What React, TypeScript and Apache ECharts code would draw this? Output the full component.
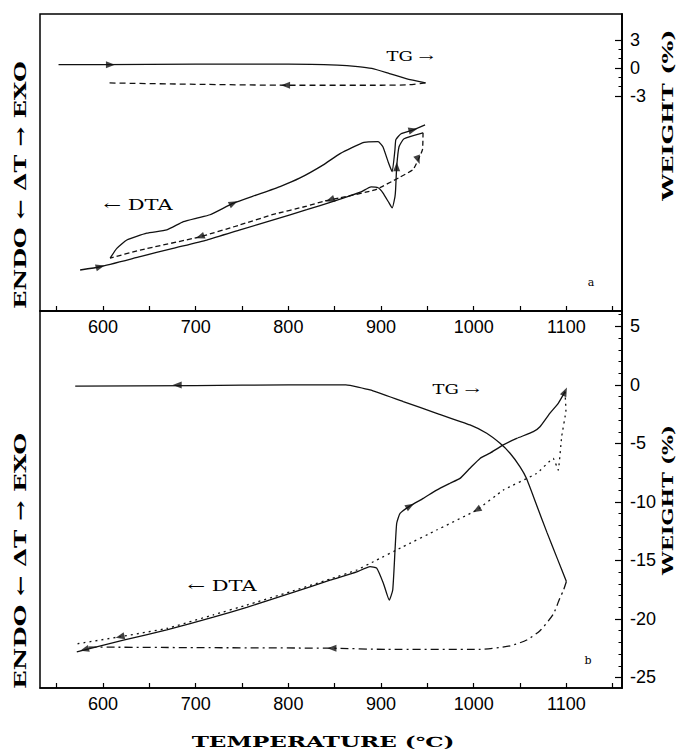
import React, { useEffect, useRef } from "react";
import * as echarts from "echarts";

// ---------- axis ticks ----------
const xTickValues = [550, 600, 650, 700, 750, 800, 850, 900, 950, 1000, 1050, 1100, 1150];
const xLabelValues = [600, 700, 800, 900, 1000, 1100];
const weightTicksA = [-3, 0, 3];
const weightMinorA = [-3, -2, -1, 0, 1, 2, 3];
const weightTicksB = [-25, -20, -15, -10, -5, 0, 5];
const weightMinorB = [-25, -24, -23, -22, -21, -20, -19, -18, -17, -16, -15, -14, -13, -12, -11, -10, -9, -8, -7, -6, -5, -4, -3, -2, -1, 0, 1, 2, 3, 4, 5, 6];

// ---------- panel a : TG (weight %) ----------
const tgHeatA = [[552, 0.35], [600, 0.35], [700, 0.4], [800, 0.4], [853, 0.3], [875, 0.15], [890, -0.05], [909, -0.6], [927, -1.15], [948, -1.6]];
const tgCoolA = [[948, -1.6], [930, -1.8], [900, -1.85], [800, -1.85], [700, -1.75], [603, -1.6]];

// ---------- panel a : DTA (arbitrary units, 0-100) ----------
const dtaHeat1A = [[575.3, 13.8], [596.9, 14.9], [640, 18.3], [675.6, 21.1], [712, 23.9], [747.9, 27.3], [783.8, 30.7], [819.8, 34.1], [848.5, 36.9], [878.4, 40.1], [889.2, 41.8], [896.8, 41.5], [902, 39.8], [908.6, 36.4], [912, 34.7], [915, 38.4], [915.7, 40.8], [916.9, 48.6], [919.4, 55.3], [924.8, 58.0], [945.3, 60.0]];
const dtaCoolA = [[945.3, 60.0], [944.7, 54.3], [940, 50.9], [934.5, 47.6], [919.4, 44.9], [893.5, 40.8], [855.8, 38.1], [837.4, 36.9], [819.8, 35.3], [783.5, 32.5], [747.9, 29.0], [704.7, 25.0], [640, 20.5], [607.7, 17.8]];
const dtaHeat2A = [[607.7, 17.8], [614.9, 21.1], [625.7, 23.9], [647.2, 26.2], [668.8, 27.3], [686.7, 30.1], [701.2, 31.3], [715.5, 32.4], [740.7, 36.3], [765.9, 39.1], [791, 41.9], [812.6, 44.8], [837.7, 49.2], [855.8, 53.0], [881.6, 56.8], [896.8, 57.0], [902, 55.3], [908, 49.9], [912, 46.9], [915, 54.3], [916, 57.7], [921.6, 59.7], [934.5, 61.0], [947.5, 62.7]];

// ---------- panel b : TG ----------
const tgHeatB = [[570, -0.1], [700, -0.05], [800, 0], [862, 0], [888.1, -0.43], [924, -1.43], [960, -2.42], [996, -3.42], [1014, -4.13], [1028.4, -4.99], [1039.2, -5.84], [1050, -7.0], [1057, -8.0], [1068, -10.3], [1079, -12.6], [1090, -14.8], [1100, -16.8]];
const tgCoolB = [[1100, -16.8], [1096.6, -17.6], [1093, -18.2], [1085.8, -19.6], [1071.5, -21.0], [1057.2, -21.8], [1039.2, -22.3], [1006.8, -22.6], [906, -22.6], [847, -22.5], [700, -22.45], [580, -22.4]];

// ---------- panel b : DTA ----------
const dtaHeatB = [[571.7, 9.6], [622, 12.7], [668.8, 15.4], [719.1, 18.8], [755.1, 21.4], [801.8, 25.1], [845, 28.6], [873.8, 30.8], [888.1, 32.2], [895.3, 31.8], [902.5, 27.8], [908.9, 23.3], [912.6, 26.0], [915.1, 36.6], [916.9, 43.7], [920.5, 46.3], [931.3, 48.3], [945.6, 50.3], [960, 52.5], [974.4, 54.3], [985.2, 55.6], [996, 58.3], [1006.8, 60.9], [1017.6, 62.3], [1031.9, 64.5], [1046.4, 66.2], [1064.3, 68.0], [1071.5, 69.3], [1082.3, 72.9], [1091.2, 75.5], [1098.5, 78.6]];
const dtaCoolB = [[1098.5, 78.6], [1099.5, 73.7], [1094.9, 66.7], [1091.2, 57.8], [1085.8, 60.9], [1067.9, 56.9], [1031.9, 52.5], [1003.2, 47.2], [960, 41.9], [924, 37.5], [891.7, 33.5], [873.8, 31.3], [845, 28.9], [801.8, 25.5], [755.1, 22.0], [719.1, 19.4], [668.8, 15.8], [618.4, 13.6], [571.7, 11.7]];

// ---------- direction arrows: [T, value, rotation deg] ----------
const arrowsTgA = [[608, 0.35, -90], [797, -1.85, 90]];
const arrowsDtaA = [[597, 14.9, -75], [916.9, 48.6, 0], [740.7, 36.3, -65], [934.5, 61.0, -75], [940, 50.9, 200], [704.7, 25.0, 110], [845, 37.4, 110]];
const arrowsTgB = [[680, 0, 90], [847, -22.5, 90]];
const arrowsDtaB = [[580, 10.2, 105], [931.3, 48.3, -60], [1098.5, 78.6, -25], [1003.2, 47.2, 120], [618.4, 13.6, 103]];

const INK = "#111";
const tickFont = '"Liberation Sans Narrow", "Liberation Sans", sans-serif';
const titleFont = '"DejaVu Serif", "Liberation Serif", serif';

function lineSeries(data: number[][], xi: number, yi: number, dash: any, smooth = 0) {
  return {
    type: "line",
    xAxisIndex: xi,
    yAxisIndex: yi,
    data,
    showSymbol: false,
    symbol: "none",
    smooth,
    lineStyle: { color: INK, width: 1.3, type: dash },
    silent: true,
    z: 3,
  };
}

function arrowSeries(data: number[][], xi: number, yi: number) {
  return {
    type: "scatter",
    xAxisIndex: xi,
    yAxisIndex: yi,
    symbol: "triangle",
    symbolSize: [7, 9],
    itemStyle: { color: INK },
    data: data.map((d) => ({ value: [d[0], d[1]], symbolRotate: d[2] })),
    silent: true,
    z: 4,
  };
}

const plainNum = (v: number) => String(v);

function xAxisDef(gi: number) {
  return {
    type: "value",
    gridIndex: gi,
    min: 532,
    max: 1160,
    axisLine: { show: true, lineStyle: { color: "#000", width: 1.5 } },
    axisTick: { show: true, inside: true, length: 5, customValues: xTickValues, lineStyle: { color: "#000", width: 1.2 } },
    axisLabel: { show: true, customValues: xLabelValues, formatter: plainNum, color: "#000", fontSize: 18, fontFamily: tickFont, margin: 7 },
    splitLine: { show: false },
  };
}

function weightAxis(gi: number, min: number, max: number, major: number[]) {
  return {
    type: "value",
    gridIndex: gi,
    position: "right",
    offset: 0,
    min,
    max,
    axisLine: { show: true, lineStyle: { color: "#000", width: 1.5 } },
    axisTick: { show: true, inside: true, length: 7, customValues: major, lineStyle: { color: "#000", width: 1.2 } },
    axisLabel: { show: true, customValues: major, formatter: plainNum, color: "#000", fontSize: 18, fontFamily: tickFont, margin: 8 },
    splitLine: { show: false },
  };
}

function minorAxis(gi: number, min: number, max: number, minor: number[]) {
  return {
    type: "value",
    gridIndex: gi,
    position: "right",
    offset: 0,
    min,
    max,
    axisLine: { show: true, lineStyle: { color: "#000", width: 1.5 } },
    axisTick: { show: true, inside: true, length: 3.5, customValues: minor, lineStyle: { color: "#000", width: 1 } },
    axisLabel: { show: false },
    splitLine: { show: false },
  };
}

function textEl(text: string, x: number, y: number, size: number, opts: any = {}) {
  return {
    type: "text",
    x,
    y,
    rotation: opts.rotation || 0,
    scaleX: opts.scaleX || 1,
    silent: true,
    style: {
      text,
      fill: "#000",
      font: `${opts.bold ? "bold " : ""}${size}px ${titleFont}`,
      textAlign: "center",
      textVerticalAlign: "middle",
      align: "center",
      verticalAlign: "middle",
    },
  };
}

export default function App() {
  const ref = useRef<HTMLDivElement>(null);
  useEffect(() => {
    if (!ref.current) return;
    const chart = echarts.init(ref.current, null, { renderer: "svg" });
    const option: any = {
      animation: false,
      backgroundColor: "#fff",
      grid: [
        { left: 40, top: 14, width: 582, height: 297, show: true, borderColor: "#000", borderWidth: 1.5, backgroundColor: "transparent" },
        { left: 40, top: 311, width: 582, height: 377, show: true, borderColor: "#000", borderWidth: 1.5, backgroundColor: "transparent" },
      ],
      xAxis: [xAxisDef(0), xAxisDef(1)],
      yAxis: [
        { type: "value", gridIndex: 0, min: 0, max: 100, show: false },
        weightAxis(0, -26, 5.77, weightTicksA),
        { type: "value", gridIndex: 1, min: 0, max: 100, show: false },
        weightAxis(1, -25.9, 6.32, weightTicksB),
        minorAxis(0, -26, 5.77, weightMinorA),
        minorAxis(1, -25.9, 6.32, weightMinorB),
      ],
      series: [
        lineSeries(tgHeatA, 0, 1, "solid", 0.2),
        lineSeries(tgCoolA, 0, 1, [6, 4], 0.2),
        lineSeries(dtaHeat1A, 0, 0, "solid", 0.15),
        lineSeries(dtaCoolA, 0, 0, [5, 3], 0.15),
        lineSeries(dtaHeat2A, 0, 0, "solid", 0.15),
        lineSeries(tgHeatB, 1, 3, "solid", 0.15),
        lineSeries(tgCoolB, 1, 3, [8, 4, 2, 4], 0.2),
        lineSeries(dtaHeatB, 1, 2, "solid", 0.15),
        lineSeries(dtaCoolB, 1, 2, [2, 4], 0.1),
        arrowSeries(arrowsTgA, 0, 1),
        arrowSeries(arrowsDtaA, 0, 0),
        arrowSeries(arrowsTgB, 1, 3),
        arrowSeries(arrowsDtaB, 1, 2),
      ],
      graphic: [
        textEl("TG →", 410, 57, 12, { scaleX: 1.5 }),
        textEl("← DTA", 138, 205, 14, { scaleX: 1.5 }),
        textEl("a", 591, 282, 11),
        textEl("TG →", 456, 390, 12, { scaleX: 1.5 }),
        textEl("← DTA", 222, 586, 14, { scaleX: 1.5 }),
        textEl("b", 588, 660, 11),
        textEl("ENDO ← ΔT → EXO", 20, 185, 17, { bold: true, rotation: Math.PI / 2, scaleX: 1.4 }),
        textEl("ENDO ← ΔT → EXO", 20, 561, 17, { bold: true, rotation: Math.PI / 2, scaleX: 1.45 }),
        textEl("WEIGHT (%)", 668, 115, 15, { bold: true, rotation: Math.PI / 2, scaleX: 1.6 }),
        textEl("WEIGHT (%)", 668, 500, 15, { bold: true, rotation: Math.PI / 2, scaleX: 1.4 }),
        textEl("TEMPERATURE (℃)", 323, 742, 14, { bold: true, scaleX: 1.65 }),
      ],
    };
    chart.setOption(option);
    return () => chart.dispose();
  }, []);
  return (
    <div
      ref={ref}
      style={{ position: "absolute", left: 0, top: 0, width: 677, height: 749, background: "#fff" }}
    />
  );
}
